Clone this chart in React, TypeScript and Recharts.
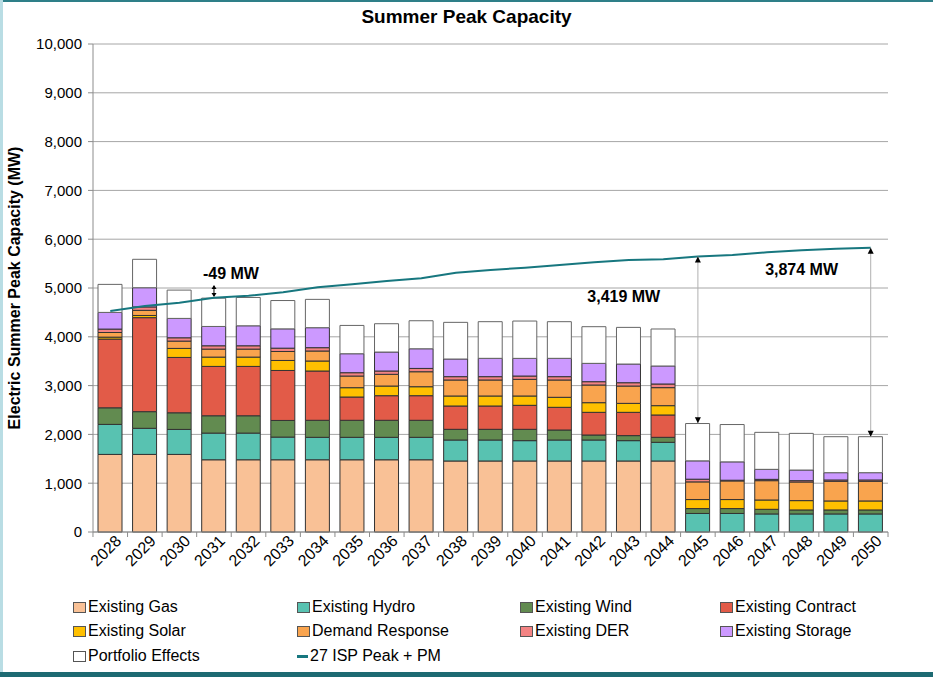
import React from 'react';
import {
  ComposedChart, Bar, Line, XAxis, YAxis, CartesianGrid, ReferenceLine, ReferenceDot,
} from 'recharts';

const years = ['2028','2029','2030','2031','2032','2033','2034','2035','2036','2037','2038','2039','2040','2041','2042','2043','2044','2045','2046','2047','2048','2049','2050'];
const gas = [1590,1590,1590,1480,1480,1480,1480,1480,1480,1480,1455,1455,1455,1455,1455,1455,1455,0,0,0,0,0,0];
const hydro = [615,535,512,547,547,465,460,460,460,460,430,430,417,430,430,417,383,380,380,370,370,370,370];
const wind = [340,341,341,355,355,341,349,349,349,349,219,219,232,205,103,103,102,100,100,95,82,82,82];
const contract = [1408,1926,1134,1011,1011,1024,1010,477,504,504,478,478,492,465,464,477,458,0,0,0,0,0,0];
const solar = [40,45,185,191,191,205,205,191,198,184,205,205,191,205,198,184,191,185,185,191,191,184,184];
const demandResponse = [95,105,150,164,164,184,205,239,240,307,328,328,341,355,362,355,369,362,382,396,382,403,403];
const der = [70,70,68,68,68,68,68,68,68,68,68,68,68,68,68,68,75,55,14,27,27,27,27];
const storage = [342,394,397,396,410,396,410,389,389,403,362,376,362,376,376,383,369,376,376,205,218,150,150];
const portfolio = [574,582,580,580,580,580,580,580,580,574,751,751,765,751,751,751,758,765,765,758,751,737,737];
const ispPeak = [4530,4631,4699,4800,4840,4911,5014,5076,5143,5198,5314,5369,5417,5471,5526,5574,5588,5646,5676,5731,5772,5806,5827];

const yTicks = [0,1000,2000,3000,4000,5000,6000,7000,8000,9000,10000];

const series = [
  { key: 'gas', name: 'Existing Gas', color: '#F9C196', values: gas },
  { key: 'hydro', name: 'Existing Hydro', color: '#58C2B1', values: hydro },
  { key: 'wind', name: 'Existing Wind', color: '#628B50', values: wind },
  { key: 'contract', name: 'Existing Contract', color: '#E25B48', values: contract },
  { key: 'solar', name: 'Existing Solar', color: '#FFC000', values: solar },
  { key: 'dr', name: 'Demand Response', color: '#F9A44E', values: demandResponse },
  { key: 'der', name: 'Existing DER', color: '#F38383', values: der },
  { key: 'storage', name: 'Existing Storage', color: '#CC99FF', values: storage },
  { key: 'portfolio', name: 'Portfolio Effects', color: '#FFFFFF', values: portfolio },
];

const data = years.map((y, i) => {
  const row: any = { year: y, isp: ispPeak[i] };
  series.forEach((s) => { row[s.key] = s.values[i]; });
  return row;
});

const FONT = '"Liberation Sans", Arial, sans-serif';
const LINE_COLOR = '#17777F';

const XTick = (props: any) => {
  const { x, y, payload, index } = props;
  const half = 17.3;
  return (
    <g transform={`translate(${x},${y})`}>
      <line x1={-half} x2={-half} y1={0} y2={5} stroke="#8c8c8c" />
      {index === years.length - 1 && <line x1={half} x2={half} y1={0} y2={5} stroke="#8c8c8c" />}
      <text x={12} y={10} textAnchor="end" transform="rotate(-45 12 10)" fontFamily={FONT} fontSize={16} fill="#000">
        {payload.value}
      </text>
    </g>
  );
};

const fmt = (v: number) => v.toLocaleString('en-US');

const upHead = (p: any) => (
  <path d={`M${p.cx},${p.cy} L${p.cx - 3},${p.cy + 6} L${p.cx + 3},${p.cy + 6} Z`} fill="#000" />
);
const downHead = (p: any) => (
  <path d={`M${p.cx},${p.cy} L${p.cx - 3},${p.cy - 6} L${p.cx + 3},${p.cy - 6} Z`} fill="#000" />
);
const textShape = (label: string, dx: number) => (p: any) => (
  <text x={p.cx + dx} y={p.cy} textAnchor="middle" dominantBaseline="central" fontFamily={FONT} fontWeight="bold" fontSize={16} fill="#000">
    {label}
  </text>
);
const smallDoubleArrow = (p: any) => (
  <g>
    <line x1={p.cx} x2={p.cx} y1={p.cy - 5} y2={p.cy + 5} stroke="#000" strokeWidth={1} />
    <path d={`M${p.cx},${p.cy - 6} L${p.cx - 2.5},${p.cy - 2} L${p.cx + 2.5},${p.cy - 2} Z`} fill="#000" />
    <path d={`M${p.cx},${p.cy + 6} L${p.cx - 2.5},${p.cy + 2} L${p.cx + 2.5},${p.cy + 2} Z`} fill="#000" />
  </g>
);

const legendItems = [
  ...series.map((s) => ({ name: s.name, color: s.color, type: 'box' })),
  { name: '27 ISP Peak + PM', color: LINE_COLOR, type: 'line' },
];
const legendCols = [73, 297, 520, 720];
const legendRows = [598, 622, 647];

export default function App() {
  return (
    <div style={{ position: 'fixed', left: 0, top: 0, width: 933, height: 677, background: '#fff', overflow: 'hidden' }}>
      <div style={{ position: 'absolute', left: 0, width: 933, textAlign: 'center', fontFamily: FONT, fontWeight: 'bold', fontSize: 19, top: 6, color: '#000' }}>
        Summer Peak Capacity
      </div>
      <div style={{ position: 'absolute', left: 0, top: 0 }}>
        <ComposedChart width={933} height={580} data={data} margin={{ top: 44, right: 45, bottom: 0, left: 0 }} barSize={24}>
          <CartesianGrid horizontal vertical={false} stroke="#a6a6a6" />
          <XAxis dataKey="year" height={48} tickLine={false} tickSize={0} tickMargin={0} interval={0} stroke="#8c8c8c" tick={<XTick />} />
          <YAxis
            width={93}
            domain={[0, 10000]}
            ticks={yTicks}
            tickFormatter={fmt}
            stroke="#8c8c8c"
            tickSize={5}
            tickMargin={6}
            tick={{ fontFamily: FONT, fontSize: 15, fill: '#000' }}
            label={{
              content: (p: any) => {
                const vb = p.viewBox;
                const cy = vb.y + vb.height / 2;
                return (
                  <text x={20} y={cy} transform={`rotate(-90 20 ${cy})`} textAnchor="middle" fontFamily={FONT} fontWeight="bold" fontSize={16} fill="#000">
                    Electric Summer Peak Capacity (MW)
                  </text>
                );
              },
            }}
          />
          {series.map((s) => (
            <Bar key={s.key} dataKey={s.key} name={s.name} stackId="a" fill={s.color} stroke={s.key === 'portfolio' ? '#666' : '#333'} strokeWidth={1} isAnimationActive={false} />
          ))}
          <Line dataKey="isp" name="27 ISP Peak + PM" stroke={LINE_COLOR} strokeWidth={2} dot={false} type="linear" isAnimationActive={false} />
          <ReferenceLine segment={[{ x: '2045', y: 5646 }, { x: '2045', y: 2227 }]} stroke="#b0b0b0" strokeWidth={1} />
          <ReferenceLine segment={[{ x: '2050', y: 5827 }, { x: '2050', y: 1953 }]} stroke="#b0b0b0" strokeWidth={1} />
          <ReferenceDot x="2045" y={5646} r={0} shape={upHead} ifOverflow="visible" />
          <ReferenceDot x="2045" y={2227} r={0} shape={downHead} ifOverflow="visible" />
          <ReferenceDot x="2050" y={5827} r={0} shape={upHead} ifOverflow="visible" />
          <ReferenceDot x="2050" y={1953} r={0} shape={downHead} ifOverflow="visible" />
          <ReferenceDot x="2031" y={4940} r={0} shape={smallDoubleArrow} ifOverflow="visible" />
          <ReferenceDot x="2031" y={5307} r={0} shape={textShape('-49 MW', 17)} ifOverflow="visible" />
          <ReferenceDot x="2043" y={4816} r={0} shape={textShape('3,419 MW', -5)} ifOverflow="visible" />
          <ReferenceDot x="2048" y={5369} r={0} shape={textShape('3,874 MW', 0)} ifOverflow="visible" />
        </ComposedChart>
      </div>
      {legendItems.map((it, i) => {
        const col = i % 4;
        const row = Math.floor(i / 4);
        return (
          <div key={it.name} style={{ position: 'absolute', left: legendCols[col], top: legendRows[row], height: 18, display: 'flex', alignItems: 'center', fontFamily: FONT, fontSize: 16, color: '#000', whiteSpace: 'nowrap' }}>
            {it.type === 'box' ? (
              <span style={{ display: 'inline-block', width: 11, height: 9, background: it.color, border: '1px solid #555', marginRight: 2 }} />
            ) : (
              <span style={{ display: 'inline-block', width: 11, height: 3, background: it.color, marginRight: 2 }} />
            )}
            <span>{it.name}</span>
          </div>
        );
      })}
      <div style={{ position: 'absolute', left: 0, top: 0, width: 933, height: 2, background: '#2E7F88' }} />
      <div style={{ position: 'absolute', left: 0, top: 0, width: 3, height: 677, background: '#B9DDE4' }} />
      <div style={{ position: 'absolute', left: 0, top: 672, width: 933, height: 5, background: '#1D6A72' }} />
    </div>
  );
}
